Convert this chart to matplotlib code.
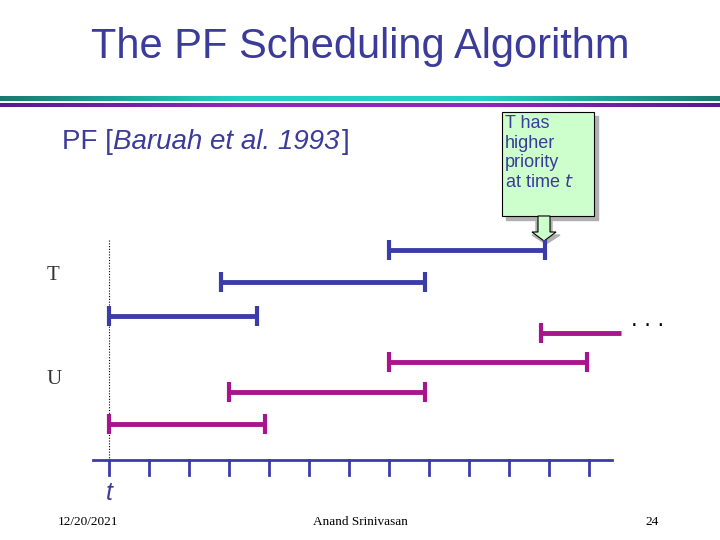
import matplotlib
matplotlib.use("Agg")
import matplotlib.pyplot as plt
from matplotlib.patches import Rectangle
from matplotlib.colors import LinearSegmentedColormap
import numpy as np

# Data (time units; t = 0 at dotted line)
T_starts = [0.0, 2.8, 7.0]
T_ends = [3.7, 7.9, 10.9]
T_rows = [316, 282, 250]
U_starts = [0.0, 3.0, 7.0, 10.8]
U_ends = [3.9, 7.9, 11.95, 12.8]
U_rows = [424, 392, 362, 333]
U_open_end = [False, False, False, True]
ticks = list(range(13))

BLUE = "#3c3ca8"
MAG = "#a8148c"
TXT = "#3b3b9b"
SANS = "Liberation Sans"

fig = plt.figure(figsize=(7.2, 5.4), dpi=100)
ax = fig.add_axes([0, 0, 1, 1])
ax.axis("off")

grad = np.linspace(0, 1, 256).reshape(1, -1)
cm1 = LinearSegmentedColormap.from_list("g", ["#1a7a6a", "#22d0c8", "#22d0c8", "#1a7a6a"])
cm2 = LinearSegmentedColormap.from_list("p", ["#5a1a8a", "#8a2ab8", "#8a2ab8", "#5a1a8a"])
X0, X1 = -109/40, (720-109)/40
ax.imshow(grad, cmap=cm1, extent=(X0, X1, 101, 96), aspect="auto")
ax.imshow(grad, cmap=cm2, extent=(X0, X1, 107, 103.5), aspect="auto")
ax.set_xlim(X0, X1)
ax.set_ylim(540, 0)

fig.text(0.5, 1-47/540, "The PF Scheduling Algorithm", ha="center", va="center",
         fontsize=30, color=TXT, family=SANS)

# subtitle in pieces
fig.canvas.draw()
r = fig.canvas.get_renderer()
x = 62/720
yv = 1-142/540
for s, st in [("PF [", "normal"), ("Baruah et al. 1993", "italic"), ("]", "normal")]:
    t = fig.text(x, yv, s, ha="left", va="center", fontsize=20, color=TXT, family=SANS, style=st)
    bb = t.get_window_extent(renderer=r)
    x += bb.width/720 + (2/720 if st == "italic" else 0)

px = lambda v: (v-109)/40
ax.add_patch(Rectangle((px(506), 116), 92/40, 104, color="#b0b0b0", zorder=1))
ax.add_patch(Rectangle((px(502), 112), 92/40, 104, facecolor="#ccffcc", edgecolor="black", lw=0.8, zorder=2))
ax.text(px(505), 115, "T has\nhigher\npriority\nat time $\\it{t}$", ha="left", va="top",
        fontsize=13, color=TXT, linespacing=1.2, zorder=3, family=SANS)
ax.fill([px(536), px(552), px(552), px(560), px(546), px(532), px(536)],
        [216, 216, 235, 235, 244, 235, 235], color="#b0b0b0", zorder=1)
ax.fill([px(538), px(550), px(550), px(556), px(544), px(532), px(538)],
        [216, 216, 232, 232, 241, 232, 232], facecolor="#ccffcc", edgecolor="black", lw=0.8, zorder=2)

ax.text(px(47), 276, "T", fontsize=15, family="Liberation Serif", ha="left", va="center", color="#333")
ax.text(px(47), 379, "U", fontsize=15, family="Liberation Serif", ha="left", va="center", color="#333")
ax.text(px(648), 320, ". . .", fontsize=15, ha="center", va="center", color="black")

ax.plot([0, 0], [240, 476], ls=(0, (1, 1.5)), color="black", lw=0.8)

ax.plot([px(93), px(612)], [460, 460], color=BLUE, lw=2)
for tk in ticks:
    ax.plot([tk, tk], [460, 475], color=BLUE, lw=2)
ax.text(0, 493, "t", fontsize=18, color=TXT, ha="center", va="center", family=SANS, style="italic")

def seg(s, e, y, c, open_end=False):
    ax.plot([s, e], [y, y], color=c, lw=3.5, solid_capstyle="butt")
    ax.plot([s, s], [y-10, y+10], color=c, lw=3, solid_capstyle="butt")
    if not open_end:
        ax.plot([e, e], [y-10, y+10], color=c, lw=3, solid_capstyle="butt")

for s, e, y in zip(T_starts, T_ends, T_rows):
    seg(s, e, y, BLUE)
for s, e, y, o in zip(U_starts, U_ends, U_rows, U_open_end):
    seg(s, e, y, MAG, o)

for xx, s in [(88, "12/20/2021"), (360, "Anand Srinivasan"), (652, "24")]:
    fig.text(xx/720, 1-522/540, s, ha="center", va="center", fontsize=9.5, family="Liberation Serif")

fig.savefig("out.png", dpi=100)
